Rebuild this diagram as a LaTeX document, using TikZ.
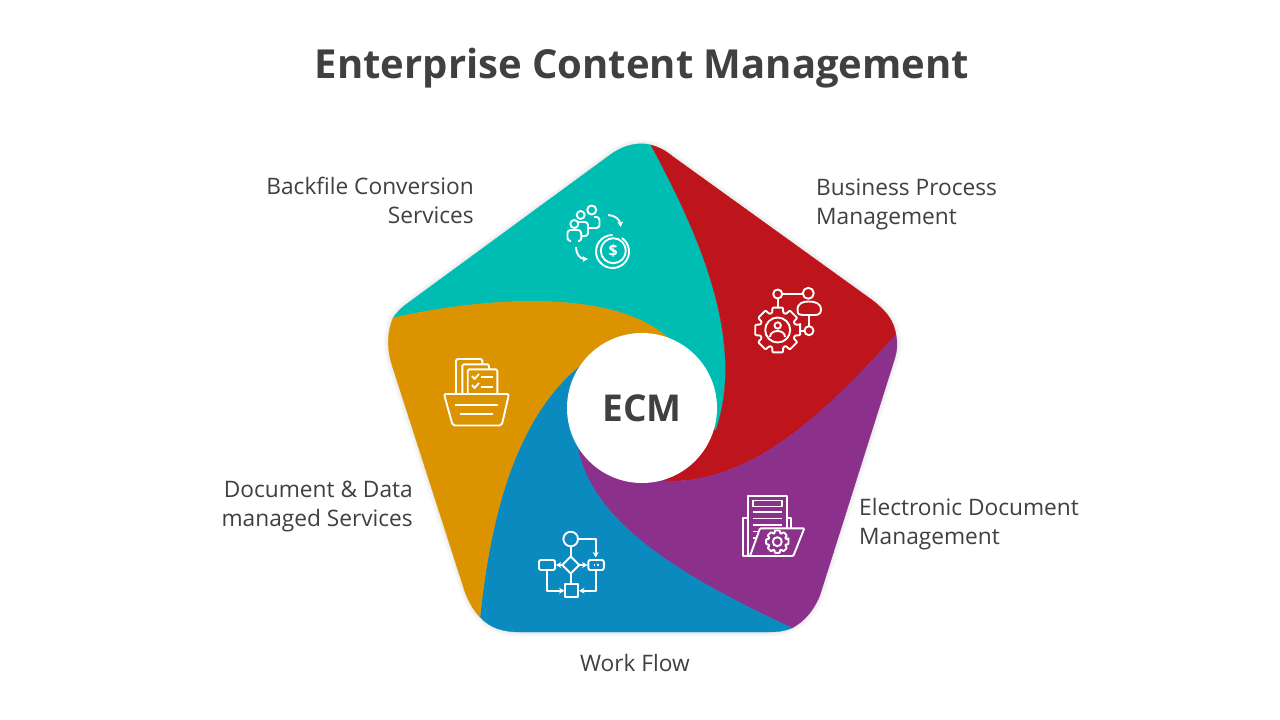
\documentclass[tikz,border=0pt]{standalone}
\usepackage{fontspec}
\setmainfont{Open Sans}
\usetikzlibrary{arrows.meta, positioning}

\definecolor{tealc}{HTML}{00BDB4}
\definecolor{redc}{HTML}{BE141C}
\definecolor{purplec}{HTML}{8B318B}
\definecolor{bluec}{HTML}{0A8ABE}
\definecolor{orangec}{HTML}{DB9400}
\definecolor{textc}{HTML}{404040}

\newcommand{\gearicon}[3]{
        \draw[icon, rounded corners=.8pt, shift={(#1)}] (-13:#2)
        \foreach \a in {0,45,...,315} {-- ({\a-13}:#2) -- ({\a+13}:#2) -- ({\a+18}:#3) -- ({\a+27}:#3)} -- cycle;
}

\begin{document}
\begin{tikzpicture}[>={Stealth[length=5.5pt, width=6pt]}, x=1pt, y=-1pt]

        \tikzstyle{petal}=[fill=#1, draw=#1, line width=.3pt]
        \tikzstyle{icon}=[draw=white, line width=1.9pt, line join=round]
        \tikzstyle{lbl}=[text=textc, font=\fontsize{22.7}{29}\selectfont, inner sep=0pt]
        \tikzstyle{glow}=[black, line width=#1, opacity=.025]

        \useasboundingbox (0,0) rectangle (1280,720);
        \fill[white] (0,0) rectangle (1280,720);

        \foreach \w in {3pt,6pt,9pt}
            \draw[glow=\w] (651,145) .. controls (640,142) and (625,144) .. (610,155) -- (408,303) .. controls (402,307) and (397,312) .. (393,318) .. controls (387,332) and (387,350) .. (392,365) -- (465,592) .. controls (468,600) and (473,610) .. (480,617) .. controls (490,628) and (503,632) .. (520,632) -- (768,632) .. controls (778,632) and (785,631) .. (792,628) .. controls (805,621) and (814,610) .. (820,595) -- (893,364) .. controls (897,352) and (898,345) .. (896,335) .. controls (894,320) and (885,310) .. (872,300) -- (672,156) .. controls (665,150) and (658,147) .. (651,145) -- cycle;

        \coordinate (hub) at (642,408);

        \draw[petal=tealc] (651,145) .. controls (640,142) and (625,144) .. (610,155) -- (408,303) .. controls (402,307) and (397,312) .. (393,318) .. controls (470,300) and (610,285) .. (668,338) -- (hub) -- (716,430) .. controls (748,335) and (692,222) .. (651,145) -- cycle;
        \draw[petal=redc] (651,145) .. controls (658,147) and (665,150) .. (672,156) -- (872,300) .. controls (885,310) and (894,320) .. (896,335) .. controls (840,395) and (760,485) .. (665,481) -- (hub) -- (716,430) .. controls (748,335) and (692,222) .. (651,145) -- cycle;
        \draw[petal=purplec] (896,335) .. controls (898,345) and (897,352) .. (893,364) -- (820,595) .. controls (814,610) and (805,621) .. (792,628) .. controls (700,585) and (595,530) .. (578,450) -- (hub) -- (665,481) .. controls (760,485) and (840,395) .. (896,335) -- cycle;
        \draw[petal=bluec] (792,628) .. controls (785,631) and (778,632) .. (768,632) -- (520,632) .. controls (503,632) and (490,628) .. (480,617) .. controls (490,520) and (515,410) .. (590,358) -- (hub) -- (578,450) .. controls (595,530) and (700,585) .. (792,628) -- cycle;
        \draw[petal=orangec] (480,617) .. controls (473,610) and (468,600) .. (465,592) -- (392,365) .. controls (387,350) and (387,332) .. (393,318) .. controls (470,300) and (610,285) .. (668,338) -- (hub) -- (590,358) .. controls (515,410) and (490,520) .. (480,617) -- cycle;

        \node[circle, fill=white, minimum size=150pt, inner sep=0pt, text=textc, font=\fontsize{37}{44}\selectfont\bfseries] (ecm) at (hub) {ECM};

        \node[text=textc, font=\fontsize{40}{48}\selectfont\bfseries, inner sep=0pt] (title) [above=340pt of ecm.center, anchor=center] {Enterprise Content Management};

        \node[lbl, align=right] (l_1) [left=168pt of ecm.center, yshift=208pt] {Backfile Conversion\\Services};
        \node[lbl, align=left] (l_2) [right=174pt of ecm.center, yshift=204pt] {Business Process\\Management};
        \node[lbl, align=left] (l_3) [right=217pt of ecm.center, yshift=-116pt] {Electronic Document\\Management};
        \node[lbl] (l_4) [below=255pt of ecm.center, xshift=-7pt, anchor=center] {Work Flow};
        \node[lbl, align=right] (l_5) [left=229pt of ecm.center, yshift=-98pt] {Document \& Data\\managed Services};

        \draw[icon] (591.7,210) circle (4.5);
        \draw[icon] (580.7,215) circle (4);
        \draw[icon] (574.3,224) circle (4);
        \draw[icon, rounded corners=3pt] (571,241) -- (567.5,241) -- (567.5,230) -- (581,230) -- (581.5,241) -- (578,241);
        \draw[icon, rounded corners=3pt] (578,222) -- (588,222) -- (588,236) -- (582,236);
        \draw[icon, rounded corners=3pt] (594,217) -- (599.5,217) -- (599.5,228) -- (589,228);
        \draw[icon, ->] (608,215) .. controls (615,215) and (620,220) .. (620.7,227);
        \draw[icon, ->] (576,247) .. controls (576,254) and (580,259) .. (588,259);
        \draw[icon] (613.3,250.7) circle (12.5);
        \draw[icon] (622,238) arc (-55:270:16.5);
        \node[text=white, font=\fontsize{16}{16}\selectfont\bfseries, inner sep=0pt] (usd) at (613.3,250.7) {\$};

        \gearicon{777.7,330}{23}{18}
        \draw[icon] (777.7,330) circle (12.5);
        \draw[icon] (777.7,325.5) circle (3.2);
        \draw[icon] (770,337) .. controls (770,329) and (785,329) .. (785,337);
        \draw[icon] (777.7,294) circle (4.5);
        \draw[icon] (808.3,293.3) circle (5.5);
        \draw[icon] (797.5,310) .. controls (797.5,303) and (803,301.5) .. (808.5,301.5) .. controls (815,301.5) and (821,303) .. (821,310) .. controls (821,315) and (816,315) .. (814,315) -- (803,315) .. controls (800,315) and (797.5,315) .. (797.5,310) -- cycle;
        \draw[icon] (809,330.7) circle (4.5);
        \draw[icon] (782.2,294) -- (802.8,294);
        \draw[icon] (777.7,298.5) -- (777.7,308);
        \draw[icon] (808.7,315) -- (808.7,326.2);
        \draw[icon] (801,330.7) -- (804.5,330.7);

        \draw[icon] (750,556) -- (743.3,556) -- (743.3,518.3) -- (748.3,518.3);
        \draw[icon] (752,556) -- (748.3,556) -- (748.3,495.7) -- (786.7,495.7) -- (786.7,528.3);
        \draw[icon] (786.7,518.3) -- (790.7,518.3) -- (790.7,528.3);
        \draw[icon] (753.3,500.5) rectangle (781.7,506.5);
        \foreach \y in {512,518.5,525}
            \draw[icon] (753.3,\y) -- (781.7,\y);
        \draw[icon] (753.3,531.5) -- (759,531.5);
        \draw[icon] (753.3,538) -- (757,538);
        \fill[purplec] (760,528.3) -- (804.3,528.3) -- (793.3,556) -- (750,556) -- cycle;
        \draw[icon, rounded corners=1pt] (760,528.3) -- (804.3,528.3) -- (793.3,556) -- (750,556) -- cycle;
        \gearicon{777.3,541.7}{11.5}{8.8}
        \draw[icon] (777.3,541.7) circle (4.5);

        \draw[icon] (570.7,539) circle (7.3);
        \draw[icon, ->] (578,539) -- (595.7,539) -- (595.7,557.5);
        \draw[icon] (570.7,546.3) -- (570.7,556.5);
        \draw[icon] (570.7,556.5) -- (579.2,565) -- (570.7,573.5) -- (562.2,565) -- cycle;
        \draw[icon, rounded corners=2pt] (539,560) rectangle (555,570);
        \draw[icon, rounded corners=2pt] (588.3,560) rectangle (603.8,570);
        \fill[white] (593.5,564) rectangle (595.2,566);
        \fill[white] (597,564) rectangle (598.7,566);
        \draw[icon, ->] (562.2,565) -- (555.8,565);
        \draw[icon, ->] (579.2,565) -- (587.5,565);
        \draw[icon] (570.7,573.5) -- (570.7,584);
        \draw[icon] (565,584) rectangle (578.3,597.3);
        \draw[icon, ->] (546.7,570) -- (546.7,590.7) -- (564.5,590.7);
        \draw[icon, ->] (595.7,570) -- (595.7,590.7) -- (579,590.7);

        \draw[icon, rounded corners=1.5pt] (456,393) -- (456,359) -- (482.3,359) -- (482.3,364.3);
        \draw[icon, rounded corners=1.5pt] (462.3,393) -- (462.3,364.3) -- (489,364.3) -- (489,369.3);
        \draw[icon, rounded corners=1.5pt] (467.7,393) -- (467.7,369.3) -- (497.3,369.3) -- (497.3,393);
        \draw[icon] (472,376) -- (474.5,379) -- (479,374);
        \draw[icon] (472,385) -- (474.5,388) -- (479,383);
        \draw[icon] (481,377) -- (493.3,377);
        \draw[icon] (481,387) -- (493.3,387);
        \draw[icon, rounded corners=2pt] (444,394) -- (509,394) -- (501.7,425.5) -- (452.7,425.5) -- cycle;
        \draw[icon] (455,405) -- (497.7,405);
        \draw[icon] (460,414.3) -- (492.7,414.3);

\end{tikzpicture}
\end{document}
